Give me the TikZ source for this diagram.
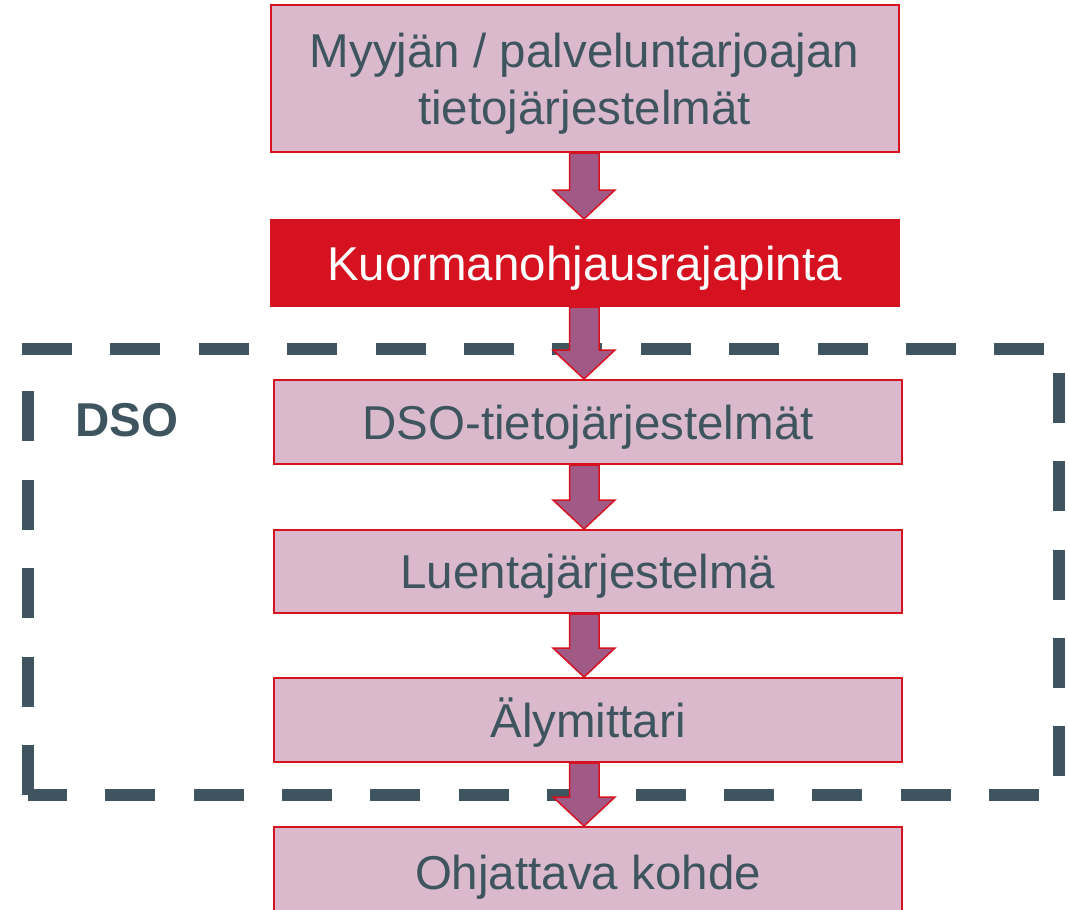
\documentclass[tikz,border=0pt]{standalone}
\usepackage{fontspec}
\setmainfont{Liberation Sans}
\usetikzlibrary{calc}
\definecolor{boxpink}{RGB}{218,185,205}
\definecolor{boxred}{RGB}{214,18,32}
\definecolor{arrowfill}{RGB}{161,89,134}
\definecolor{darkslate}{RGB}{62,85,96}
\tikzset{
  x=1pt,y=1pt,
  stepbox/.style={draw=boxred, line width=2pt, fill=boxpink, text=darkslate,
    minimum width=628pt, inner sep=0pt, align=center,
    text height=34pt, text depth=0pt,
    font=\fontsize{47.5}{57}\selectfont},
  redbox/.style={stepbox, fill=boxred, text=white},
  fatarrow/.style={draw=boxred, line width=1.5pt, fill=arrowfill, line join=miter},
  dsoframe/.style={draw=darkslate, line width=12pt, dash pattern=on 50pt off 38.4pt},
  dsolabel/.style={text=darkslate, font=\fontsize{47.5}{57}\selectfont\bfseries,
    inner sep=0pt, text height=34pt, text depth=0pt}
}
\newcommand\fatarr[2]{%
  \path[fatarrow] let \p1=(#1.south), \p2=(#2.north) in
    (569.5,\y1) -- (569.5,\y2+29) -- (553,\y2+29) -- (584,\y2)
    -- (615,\y2+29) -- (599,\y2+29) -- (599,\y1) -- cycle;}
\begin{document}
\begin{tikzpicture}
\useasboundingbox (0,0) rectangle (1068,-910);
\begin{scope}
\clip (0,0) rectangle (1068,-910);
% DSO dashed frame
\draw[dsoframe] (22,-349) -- (1059,-349) -- (1059,-795) -- (28,-795);
\draw[dsoframe] (28,-795) -- (28,-349);
\node[dsolabel, anchor=west] (dso) at (75,-419) {DSO};
% boxes
\node[stepbox, minimum height=147pt, text height=91pt] (b1) at (584.5,-78.5) {Myyjän / palveluntarjoajan\\tietojärjestelmät};
\node[redbox, minimum height=86pt] (b2) at (584.5,-263) {Kuormanohjausrajapinta};
\node[stepbox, minimum height=84pt] (b3) at (588,-422) {DSO-tietojärjestelmät};
\node[stepbox, minimum height=83pt] (b4) at (588,-571.5) {Luentajärjestelmä};
\node[stepbox, minimum height=84pt] (b5) at (588,-720) {Älymittari};
\node[stepbox, minimum height=90pt] (b6) at (588,-872) {Ohjattava kohde};
% arrows
\fatarr{b1}{b2}
\fatarr{b2}{b3}
\fatarr{b3}{b4}
\fatarr{b4}{b5}
\fatarr{b5}{b6}
\end{scope}
\end{tikzpicture}
\end{document}
